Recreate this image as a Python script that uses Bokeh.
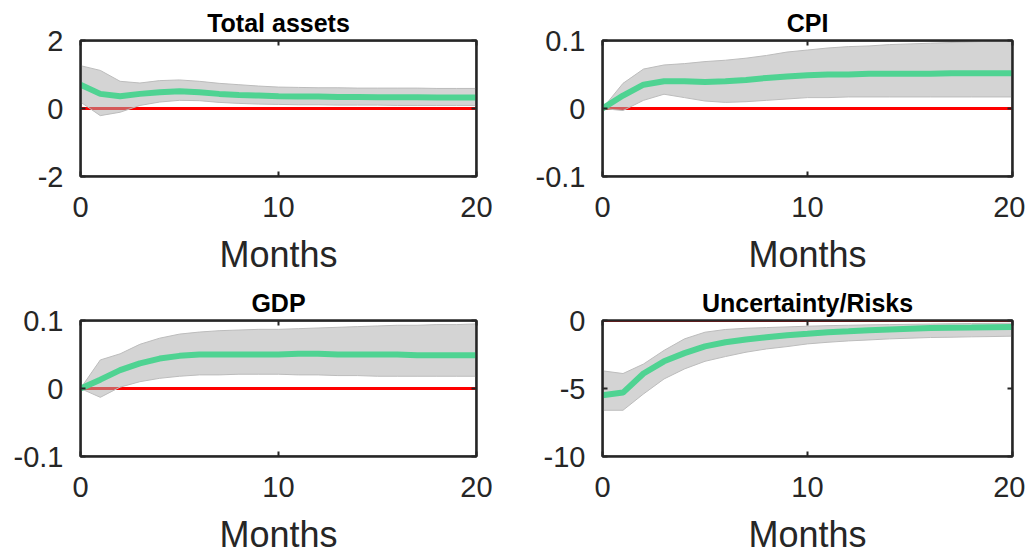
from bokeh.plotting import figure
from bokeh.models import (Range1d, LinearAxis, FixedTicker, CustomJSTickFormatter,
                          Span, BoxAnnotation)
from bokeh.layouts import column, row
from bokeh.embed import file_html
from bokeh.resources import INLINE

# Horizon (months after the shock)
months = list(range(21))

# Impulse responses with lower / upper confidence bounds
assets_irf = [0.70, 0.43, 0.36, 0.43, 0.48, 0.51, 0.48, 0.43, 0.40, 0.38, 0.36,
              0.35, 0.35, 0.34, 0.34, 0.33, 0.33, 0.33, 0.32, 0.32, 0.32]
assets_lo = [0.19, -0.21, -0.11, 0.09, 0.19, 0.24, 0.23, 0.18, 0.15, 0.13, 0.12,
             0.11, 0.11, 0.10, 0.10, 0.10, 0.09, 0.09, 0.09, 0.09, 0.09]
assets_hi = [1.26, 1.12, 0.80, 0.75, 0.82, 0.84, 0.80, 0.74, 0.70, 0.66, 0.63,
             0.62, 0.61, 0.61, 0.60, 0.60, 0.60, 0.60, 0.59, 0.59, 0.59]

cpi_irf = [0.0, 0.019, 0.035, 0.040, 0.040, 0.039, 0.040, 0.042, 0.045, 0.047, 0.049,
           0.050, 0.050, 0.051, 0.051, 0.051, 0.051, 0.052, 0.052, 0.052, 0.052]
cpi_lo = [0.0, -0.003, 0.012, 0.021, 0.016, 0.011, 0.009, 0.010, 0.012, 0.014, 0.016,
          0.016, 0.017, 0.017, 0.017, 0.017, 0.017, 0.017, 0.017, 0.017, 0.017]
cpi_hi = [0.0, 0.037, 0.058, 0.064, 0.066, 0.069, 0.071, 0.074, 0.078, 0.083, 0.086,
          0.089, 0.091, 0.092, 0.094, 0.095, 0.096, 0.097, 0.098, 0.099, 0.099]

gdp_irf = [0.0, 0.013, 0.027, 0.037, 0.044, 0.048, 0.050, 0.050, 0.050, 0.050, 0.050,
           0.051, 0.051, 0.050, 0.050, 0.050, 0.050, 0.049, 0.049, 0.049, 0.049]
gdp_lo = [0.0, -0.013, 0.002, 0.010, 0.015, 0.018, 0.020, 0.020, 0.021, 0.021, 0.021,
          0.020, 0.020, 0.019, 0.019, 0.018, 0.018, 0.018, 0.018, 0.018, 0.018]
gdp_hi = [0.0, 0.042, 0.051, 0.065, 0.074, 0.080, 0.083, 0.085, 0.086, 0.087, 0.087,
          0.088, 0.089, 0.090, 0.091, 0.092, 0.093, 0.093, 0.094, 0.094, 0.095]

risk_irf = [-5.5, -5.3, -3.9, -3.0, -2.4, -1.9, -1.6, -1.4, -1.23, -1.08, -0.98,
            -0.86, -0.79, -0.71, -0.66, -0.61, -0.56, -0.54, -0.52, -0.49, -0.47]
risk_lo = [-6.6, -6.6, -5.4, -4.3, -3.56, -3.0, -2.65, -2.33, -2.09, -1.92, -1.72,
           -1.6, -1.5, -1.43, -1.35, -1.3, -1.25, -1.23, -1.2, -1.18, -1.15]
risk_hi = [-3.7, -3.9, -3.2, -2.2, -1.35, -0.86, -0.66, -0.57, -0.52, -0.47, -0.42,
           -0.38, -0.35, -0.32, -0.30, -0.28, -0.26, -0.24, -0.22, -0.21, -0.20]

x_ticks = [0, 10, 20]
FONT = "Liberation Sans"
INK = "#262626"


def style_axis(ax, ticks, show_labels, standoff):
    ax.ticker = FixedTicker(ticks=ticks)
    ax.minor_tick_line_color = None
    ax.major_tick_in = 5
    ax.major_tick_out = 0
    ax.major_tick_line_color = INK
    ax.major_tick_line_width = 2
    ax.axis_line_color = INK
    ax.axis_line_width = 2
    if show_labels:
        ax.formatter = CustomJSTickFormatter(code="return String(Number(tick.toFixed(6)));")
        ax.major_label_text_font = FONT
        ax.major_label_text_font_size = "29px"
        ax.major_label_text_color = INK
        ax.major_label_standoff = standoff
    else:
        ax.formatter = CustomJSTickFormatter(code="return '';")
        ax.major_label_text_font_size = "0px"
        ax.major_label_standoff = 0


def panel(title, irf, lo, hi, y_range, y_ticks, width, left, right):
    p = figure(width=width, height=280,
               x_range=Range1d(0, 20), y_range=Range1d(*y_range),
               output_backend="svg", toolbar_location=None, tools="",
               min_border_left=left, min_border_right=right,
               min_border_top=40, min_border_bottom=104)
    p.grid.visible = False
    p.outline_line_color = INK
    p.outline_line_width = 2
    p.background_fill_color = "white"
    p.border_fill_color = "white"

    p.title.text = title
    p.title.align = "center"
    p.title.text_font = FONT
    p.title.text_font_size = "25px"
    p.title.text_font_style = "bold"
    p.title.text_color = "black"
    p.title.standoff = 7

    p.add_layout(LinearAxis(), "above")
    p.add_layout(LinearAxis(), "right")
    for ax in p.xaxis:
        style_axis(ax, x_ticks, ax in p.below, 20)
    for ax in p.yaxis:
        style_axis(ax, y_ticks, ax in p.left, 17)

    xa = p.below[0]
    xa.axis_label = "Months"
    xa.axis_label_text_font = FONT
    xa.axis_label_text_font_size = "36px"
    xa.axis_label_text_font_style = "normal"
    xa.axis_label_text_color = INK
    xa.axis_label_standoff = 14

    zero = Span(location=0, dimension="width", line_color="#ff0000", line_width=3)
    zero.level = "underlay"
    p.add_layout(zero)

    p.varea(x=months, y1=lo, y2=hi, fill_color="#adadad", fill_alpha=0.52)
    p.line(months, hi, line_color="#bcbcbc", line_width=1)
    p.line(months, lo, line_color="#bcbcbc", line_width=1)
    p.line(months, irf, line_color="#4fd392", line_width=6)

    # box around the plotting area
    frame_box = BoxAnnotation(fill_color=None, fill_alpha=0, line_color=INK,
                              line_width=2, line_alpha=1, level="overlay")
    p.add_layout(frame_box)
    return p


p1 = panel("Total assets", assets_irf, assets_lo, assets_hi, (-2, 2), [-2, 0, 2], 512, 80, 36)
p2 = panel("CPI", cpi_irf, cpi_lo, cpi_hi, (-0.1, 0.1), [-0.1, 0, 0.1], 513, 90, 13)
p3 = panel("GDP", gdp_irf, gdp_lo, gdp_hi, (-0.1, 0.1), [-0.1, 0, 0.1], 512, 80, 36)
p4 = panel("Uncertainty/Risks", risk_irf, risk_lo, risk_hi, (-10, 0), [-10, -5, 0], 513, 90, 13)

layout = column(row(p1, p2), row(p3, p4))

open("out.html", "w").write(file_html(layout, INLINE))
